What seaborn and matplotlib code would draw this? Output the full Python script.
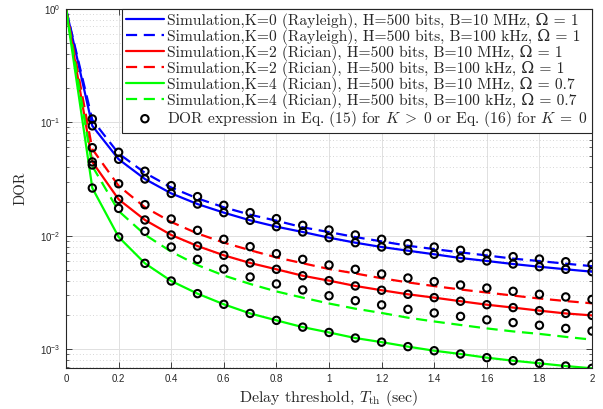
import numpy as np
import pandas as pd
import matplotlib
matplotlib.use("Agg")
import matplotlib.pyplot as plt
import seaborn as sns
from matplotlib.ticker import MultipleLocator, FuncFormatter, LogLocator, NullFormatter

# delay thresholds (sec)
t_eq = [0.1, 0.2, 0.3, 0.4, 0.5, 0.6, 0.7, 0.8, 0.9, 1.0,
        1.1, 1.2, 1.3, 1.4, 1.5, 1.6, 1.7, 1.8, 1.9, 2.0]
t_sim = [0.0] + t_eq

# simulation curves (value at t=0 is 1)
sim_k0_10m = [1.0, 0.093, 0.0472, 0.0316, 0.0236, 0.0190, 0.01596, 0.01365, 0.0120, 0.01077, 0.0096,
              0.00867, 0.00794, 0.00737, 0.00685, 0.00635, 0.00598, 0.00562, 0.00532, 0.00505, 0.00481]
sim_k0_100k = [1.0, 0.105, 0.0530, 0.0358, 0.0266, 0.0213, 0.0178, 0.0153, 0.01355, 0.01185, 0.01075,
               0.00972, 0.00890, 0.00815, 0.00761, 0.00712, 0.00669, 0.00627, 0.00597, 0.00566, 0.00538]
sim_k2_10m = [1.0, 0.0447, 0.0209, 0.01375, 0.01014, 0.0081, 0.00671, 0.00574, 0.00505, 0.00443, 0.00401,
              0.00360, 0.00330, 0.00304, 0.00284, 0.00264, 0.00246, 0.00232, 0.00218, 0.00206, 0.00198]
sim_k2_100k = [1.0, 0.058, 0.0275, 0.0178, 0.0132, 0.01045, 0.00868, 0.00744, 0.00643, 0.00571, 0.00508,
               0.00464, 0.00421, 0.00387, 0.00359, 0.00335, 0.00315, 0.00296, 0.00279, 0.00265, 0.00253]
sim_k4_10m = [1.0, 0.0263, 0.00973, 0.0057, 0.00398, 0.00308, 0.00248, 0.00206, 0.00179, 0.00156, 0.00140,
              0.00125, 0.00115, 0.00105, 0.000966, 0.000904, 0.000839, 0.000789, 0.000748, 0.000708, 0.000676]
sim_k4_100k = [1.0, 0.041, 0.0165, 0.0102, 0.00722, 0.0055, 0.00445, 0.00375, 0.00322, 0.00284, 0.00252,
               0.00227, 0.00208, 0.00189, 0.00175, 0.00163, 0.00152, 0.00143, 0.00136, 0.00128, 0.00121]

# analytical DOR expression (circles)
eq_k0_10m = [0.093, 0.0472, 0.0316, 0.0236, 0.0190, 0.01596, 0.01365, 0.0120, 0.01077, 0.0096,
             0.00867, 0.00794, 0.00737, 0.00685, 0.00635, 0.00598, 0.00562, 0.00532, 0.00505, 0.00481]
eq_k0_100k = [0.107, 0.0544, 0.0370, 0.0276, 0.0221, 0.01853, 0.01596, 0.01413, 0.01234, 0.01122,
              0.01014, 0.00929, 0.00850, 0.00794, 0.00743, 0.00698, 0.00653, 0.00622, 0.00589, 0.00558]
eq_k2_10m = [0.0447, 0.0209, 0.01375, 0.01014, 0.0081, 0.00671, 0.00574, 0.00505, 0.00443, 0.00401,
             0.00360, 0.00330, 0.00304, 0.00284, 0.00264, 0.00246, 0.00232, 0.00218, 0.00206, 0.00198]
eq_k2_100k = [0.0597, 0.0287, 0.01876, 0.01403, 0.01114, 0.00929, 0.00800, 0.00693, 0.00618, 0.00551,
              0.00505, 0.00459, 0.00423, 0.00393, 0.00367, 0.00345, 0.00323, 0.00304, 0.00288, 0.00274]
eq_k4_10m = [0.0263, 0.00973, 0.0057, 0.00398, 0.00308, 0.00248, 0.00206, 0.00179, 0.00156, 0.00140,
             0.00125, 0.00115, 0.00105, 0.000966, 0.000904, 0.000839, 0.000789, 0.000748, 0.000708, 0.000676]
eq_k4_100k = [0.042, 0.0174, 0.01093, 0.00794, 0.00618, 0.00508, 0.00432, 0.00375, 0.00332, 0.00295,
              0.00267, 0.00245, 0.00224, 0.00208, 0.00194, 0.00181, 0.00171, 0.00162, 0.00152, 0.00144]

labels = [
    "Simulation,K=0 (Rayleigh), H=500 bits, B=10 MHz, \u03a9 = 1",
    "Simulation,K=0 (Rayleigh), H=500 bits, B=100 kHz, \u03a9 = 1",
    "Simulation,K=2 (Rician), H=500 bits, B=10 MHz, \u03a9 = 1",
    "Simulation,K=2 (Rician), H=500 bits, B=100 kHz, \u03a9 = 1",
    "Simulation,K=4 (Rician), H=500 bits, B=10 MHz, \u03a9 = 0.7",
    "Simulation,K=4 (Rician), H=500 bits, B=100 kHz, \u03a9 = 0.7",
]
eq_label = r"DOR expression in Eq. (15) for $K\;>\;0$ or Eq. (16) for $K\;=\;0$"

sim_series = [sim_k0_10m, sim_k0_100k, sim_k2_10m, sim_k2_100k, sim_k4_10m, sim_k4_100k]
eq_series = [eq_k0_10m, eq_k0_100k, eq_k2_10m, eq_k2_100k, eq_k4_10m, eq_k4_100k]
colors = ["#0000ff", "#0000ff", "#ff0000", "#ff0000", "#00ff00", "#00ff00"]
styles = ["-", (0, (5, 3)), "-", (0, (5, 3)), "-", (0, (5, 3))]

sns.set_theme(style="ticks")
plt.rcParams.update({
    "font.family": ["Liberation Sans", "DejaVu Sans"],
    "mathtext.fontset": "dejavusans",
    "axes.edgecolor": "#262626",
    "axes.linewidth": 0.8,
    "xtick.color": "#262626",
    "ytick.color": "#262626",
    "xtick.labelsize": 7,
    "ytick.labelsize": 7,
})

fig = plt.figure(figsize=(6.03, 4.09), dpi=100)
ax = fig.add_axes([0.1095, 0.1002, 0.8723, 0.878])

for vals, c, ls, lbl in zip(sim_series, colors, styles, labels):
    sns.lineplot(x=t_sim, y=vals, ax=ax, color=c, linestyle=ls, lw=1.6, label=lbl)

eq_df = pd.DataFrame({
    "t": t_eq * len(eq_series),
    "dor": np.concatenate(eq_series),
})
sns.scatterplot(data=eq_df, x="t", y="dor", ax=ax, marker="o", s=28,
                facecolor="none", edgecolor="black", linewidth=1.5,
                label=eq_label, zorder=3)

ax.set_yscale("log")
ax.set_xlim(0, 2)
ax.set_ylim(6.8e-4, 1)
ax.xaxis.set_major_locator(MultipleLocator(0.2))
ax.xaxis.set_major_formatter(FuncFormatter(lambda v, p: f"{v:g}"))
ax.yaxis.set_major_locator(LogLocator(base=10, numticks=10))
ax.yaxis.set_minor_locator(LogLocator(base=10, subs=np.arange(2, 10), numticks=20))
ax.yaxis.set_minor_formatter(NullFormatter())

ax.grid(which="major", color="#e0e0e0", lw=0.7, ls="-")
ax.grid(which="minor", axis="y", color="#c8c8c8", lw=0.6, ls=(0, (1, 3)))
ax.set_axisbelow(True)
ax.tick_params(which="both", direction="in", top=True, right=True)
ax.tick_params(which="major", length=4, width=0.6, pad=4)
ax.tick_params(which="minor", length=2.5, width=0.5)

xl = ax.set_xlabel(r"Delay threshold, $T_{\mathrm{th}}$ (sec)", family="cmr10", size=11.5, labelpad=3)
xl.set_math_fontfamily("cm")
ax.set_ylabel("DOR", family="cmr10", size=10.5, labelpad=9)

leg = ax.legend(loc="upper right", borderaxespad=0, frameon=True, fancybox=False,
                edgecolor="#262626", framealpha=1,
                prop={"family": ["cmr10", "DejaVu Serif"], "size": 11.2},
                handlelength=2.4, handletextpad=0.25, borderpad=0.25, labelspacing=0.0)
leg.get_frame().set_linewidth(0.8)
for t in leg.get_texts():
    t.set_math_fontfamily("cm")

fig.savefig("out.png", dpi=100)
